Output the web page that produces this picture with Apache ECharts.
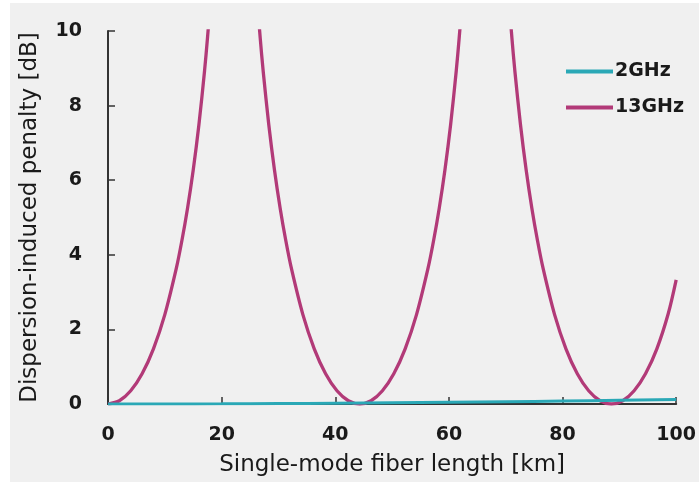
<!DOCTYPE html>
<html><head><meta charset="utf-8">
<script src="https://cdn.jsdelivr.net/npm/echarts@6/dist/echarts.min.js"></script>
<style>html,body{margin:0;padding:0;background:#fff}#c{width:699px;height:482px}</style>
</head><body><div id="c"></div>
<script>
// fiber length [km], penalty [dB]
const len13 = [0,2,4,6,8,10,12,13,14,15,16,17,17.5,18,18.5,null,
  25.8,26.3,26.8,27.3,28.3,29.3,30.3,31.3,32.3,34.3,36.3,38.3,40.3,42.3,44.3,
  46.3,48.3,50.3,52.3,54.3,56.3,57.3,58.3,59.3,60.3,61.3,61.8,62.3,62.8,null,
  70.1,70.6,71.1,71.6,72.6,73.6,74.6,75.6,76.6,78.6,80.6,82.6,84.6,86.6,88.6,
  90.6,92.6,94.6,96.6,98.6,100];
const pen13 = [0,0.088,0.355,0.811,1.48,2.396,3.62,4.375,5.25,6.274,7.487,8.942,9.797,10.75,11.84,null,
  11.84,10.75,9.797,8.942,7.487,6.274,5.25,4.375,3.62,2.396,1.48,0.811,0.355,0.088,0,
  0.088,0.355,0.811,1.48,2.396,3.62,4.375,5.25,6.274,7.487,8.942,9.797,10.75,11.84,null,
  11.84,10.75,9.797,8.942,7.487,6.274,5.25,4.375,3.62,2.396,1.48,0.811,0.355,0.088,0,
  0.088,0.355,0.811,1.48,2.42,3.33];
const len2 = [0,10,20,30,40,50,60,70,80,90,100];
const pen2 = [0,0.0012,0.0049,0.011,0.0196,0.0306,0.0441,0.060,0.0786,0.0996,0.123];
const seriesNames = ['2GHz','13GHz'];
const xTicks = [0,20,40,60,80,100];
const yTicks = [0,2,4,6,8,10];

const zip = (a,b) => a.map((v,i) => v === null ? [null,null] : [v,b[i]]);
const ax = '#333';
const tickFont = {fontFamily:'DejaVu Sans', fontSize:19, fontWeight:'bold', color:'#1a1a1a'};
const titleFont = {fontFamily:'DejaVu Sans', fontSize:23, fontWeight:'normal', color:'#1a1a1a'};
const chart = echarts.init(document.getElementById('c'));
chart.setOption({
  backgroundColor: '#f0f0f0',
  animation: false,
  graphic: [
    {type:'rect', shape:{x:0,y:0,width:10,height:482}, style:{fill:'#fff'}, z:-10, silent:true},
    {type:'rect', shape:{x:0,y:0,width:699,height:3}, style:{fill:'#fff'}, z:-10, silent:true}
  ],
  grid: {left:108, right:22, top:31, bottom:74, containLabel:false},
  legend: {
    orient:'vertical', left:561, top:57, itemWidth:47, itemHeight:4, itemGap:17,
    icon:'rect',
    textStyle:{fontFamily:'DejaVu Sans', fontSize:19, fontWeight:'bold', color:'#1a1a1a', padding:[0,0,0,-3]},
    data: seriesNames
  },
  xAxis: {
    type:'value', min:xTicks[0], max:xTicks[xTicks.length-1], interval:20,
    name:'Single-mode fiber length [km]', nameLocation:'middle', nameGap:50,
    nameTextStyle:titleFont,
    axisLine:{show:true, lineStyle:{color:ax, width:2}},
    axisTick:{show:true, inside:true, length:7, lineStyle:{color:ax, width:1.5}},
    axisLabel:Object.assign({margin:22}, tickFont),
    splitLine:{show:false}
  },
  yAxis: {
    type:'value', min:yTicks[0], max:yTicks[yTicks.length-1], interval:2,
    name:'Dispersion-induced penalty [dB]', nameLocation:'middle', nameGap:66,
    nameTextStyle:titleFont,
    axisLine:{show:true, lineStyle:{color:ax, width:2}},
    axisTick:{show:true, inside:true, length:7, lineStyle:{color:ax, width:1.5}},
    axisLabel:Object.assign({margin:26}, tickFont),
    splitLine:{show:false}
  },
  series: [
    {name:seriesNames[0], type:'line', data:zip(len2,pen2), showSymbol:false, smooth:true,
     color:'#2aa8b6', lineStyle:{width:3, color:'#2aa8b6'}, clip:true, z:3},
    {name:seriesNames[1], type:'line', data:zip(len13,pen13), showSymbol:false, smooth:0.3,
     connectNulls:false,
     color:'#b23a78', lineStyle:{width:3.3, color:'#b23a78'}, clip:true, z:2}
  ]
});
</script></body></html>
